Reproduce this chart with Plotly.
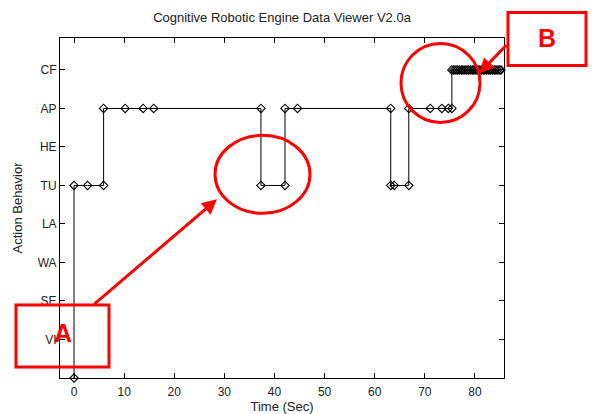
import plotly.graph_objects as go

# ---- data ----
time_sec = [0, 0, 2.7, 5.9, 5.9, 10.2, 13.8, 15.9, 37.3, 37.3, 42.1, 42.1, 44.6,
            63.2, 63.2, 63.9, 66.8, 66.8, 71.1, 73.4, 74.7, 75.4, 75.4,
            75.8, 76.2, 76.5, 76.9, 77.3, 77.6, 78.0, 78.4, 78.7, 79.1, 79.5,
            79.8, 80.2, 80.6, 80.9, 81.3, 81.7, 82.0, 82.4, 82.8, 83.1, 83.5,
            83.9, 84.2, 84.6, 85.0, 85.2]
behavior = ['', 'TU', 'TU', 'TU', 'AP', 'AP', 'AP', 'AP', 'AP', 'TU', 'TU', 'AP', 'AP',
            'AP', 'TU', 'TU', 'TU', 'AP', 'AP', 'AP', 'AP', 'AP', 'CF',
            'CF', 'CF', 'CF', 'CF', 'CF', 'CF', 'CF', 'CF', 'CF', 'CF', 'CF',
            'CF', 'CF', 'CF', 'CF', 'CF', 'CF', 'CF', 'CF', 'CF', 'CF', 'CF',
            'CF', 'CF', 'CF', 'CF', 'CF']
level_names = ['', 'VI', 'SE', 'WA', 'LA', 'TU', 'HE', 'AP', 'CF']
x_ticks = [0, 10, 20, 30, 40, 50, 60, 70, 80]

level = [level_names.index(b) for b in behavior]

# ---- figure geometry (pixels) ----
W, H = 604, 414
L, R, T, B = 60, 504, 37.5, 378


def px(x):
    return (x - L) / (R - L)


def py(y):
    return (B - y) / (B - T)


fig = go.Figure()
fig.add_trace(go.Scatter(
    x=time_sec, y=level, mode='lines+markers',
    line=dict(color='black', width=1),
    marker=dict(symbol='diamond-open', size=6.5, color='black', line=dict(width=1.1, color='black')),
    cliponaxis=False, showlegend=False,
))

font_fam = 'Liberation Sans, Arial, sans-serif'
axis_common = dict(
    showline=True, mirror='ticks', linecolor='black', linewidth=1,
    ticks='inside', ticklen=5, tickcolor='black', tickwidth=1,
    showgrid=False, zeroline=False, automargin=False,
    tickfont=dict(family=font_fam, size=12, color='#222'),
)
fig.update_xaxes(range=[-2.8, 85.8], tickvals=x_ticks, ticklabelstandoff=3,
                 title=dict(text='Time (Sec)', font=dict(family=font_fam, size=13, color='#222'), standoff=6),
                 **axis_common)
fig.update_yaxes(range=[0, 8.83], tickvals=list(range(1, 9)), ticktext=level_names[1:],
                 title=dict(text='Action Behavior', font=dict(family=font_fam, size=13, color='#222'), standoff=12),
                 **axis_common)

# ---- red call-outs ----
red = '#ff0000'
shapes = [
    dict(type='rect', x0=px(16), x1=px(109), y0=py(305), y1=py(367)),
    dict(type='rect', x0=px(508), x1=px(586), y0=py(12), y1=py(65)),
    dict(type='circle', x0=px(215), x1=px(310), y0=py(135), y1=py(213)),
    dict(type='circle', x0=px(401), x1=px(480), y0=py(43), y1=py(122)),
]
for s in shapes:
    s.update(xref='paper', yref='paper', line=dict(color=red, width=3))
fig.update_layout(shapes=shapes)

fig.add_annotation(x=px(217), y=py(199), xref='paper', yref='paper', ax=-124, ay=106,
                   showarrow=True, arrowhead=2, arrowsize=1, arrowwidth=3, arrowcolor=red, text='')
fig.add_annotation(x=px(479), y=py(73), xref='paper', yref='paper', ax=29, ay=-30,
                   showarrow=True, arrowhead=2, arrowsize=1, arrowwidth=3, arrowcolor=red, text='')
fig.add_annotation(x=px(63), y=py(333), xref='paper', yref='paper', text='<b>A</b>', showarrow=False,
                   xanchor='center', yanchor='middle',
                   font=dict(family=font_fam, size=25, color=red))
fig.add_annotation(x=px(547), y=py(38), xref='paper', yref='paper', text='<b>B</b>', showarrow=False,
                   xanchor='center', yanchor='middle',
                   font=dict(family=font_fam, size=25, color=red))

fig.update_layout(
    width=W, height=H,
    margin=dict(l=L, r=W - R, t=T, b=H - B),
    paper_bgcolor='white', plot_bgcolor='white',
    title=dict(text='Cognitive Robotic Engine Data Viewer V2.0a', x=0.5, xref='paper',
               y=1 - 17 / H, yref='container', yanchor='middle',
               font=dict(family=font_fam, size=13, color='#222')),
)

fig.write_html('out.html')
